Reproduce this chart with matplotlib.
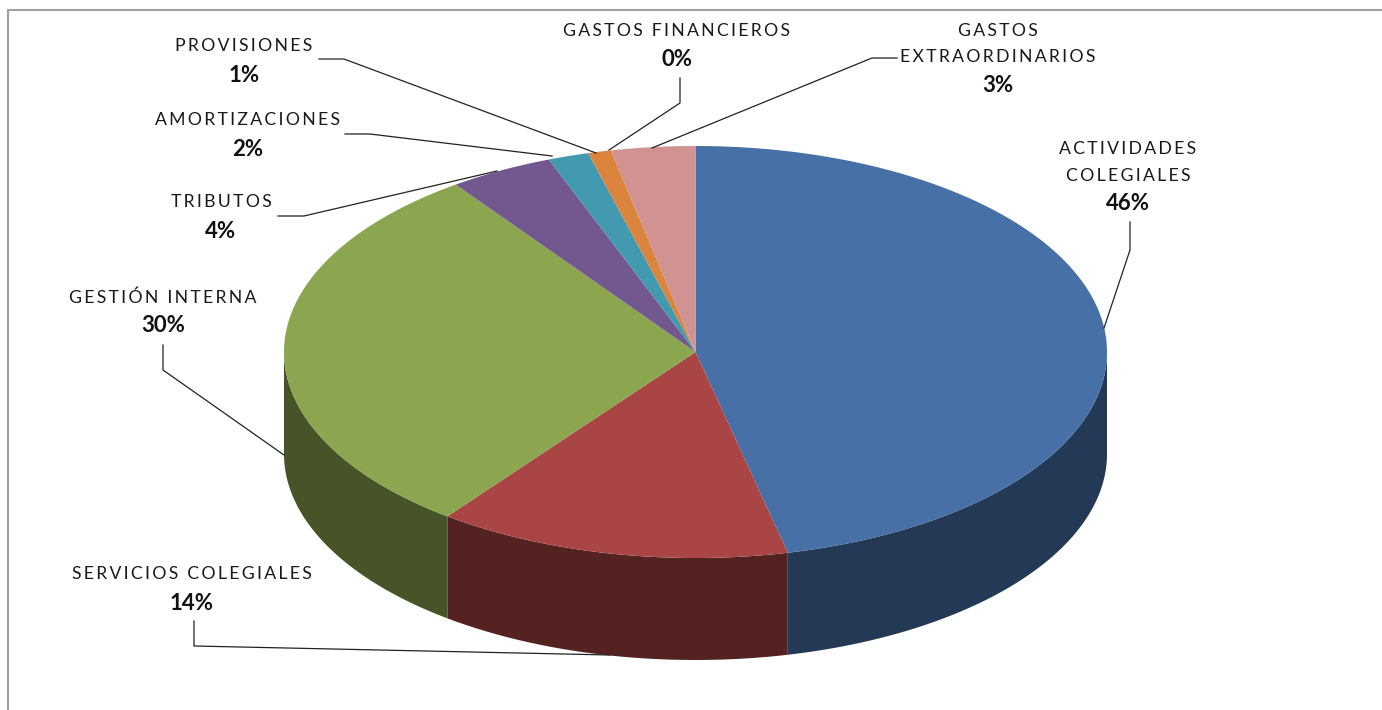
import numpy as np
import matplotlib
matplotlib.use("Agg")
import matplotlib.pyplot as plt

plt.rcParams['font.family'] = ['Lato', 'DejaVu Sans']

# porcentajes, en sentido horario desde arriba
categorias = ["ACTIVIDADES COLEGIALES", "SERVICIOS COLEGIALES", "GESTIÓN INTERNA", "TRIBUTOS",
              "AMORTIZACIONES", "PROVISIONES", "GASTOS FINANCIEROS", "GASTOS EXTRAORDINARIOS"]
valores = [46.4, 13.9, 29.8, 4.1, 1.6, 0.9, 0.0, 3.3]
etiquetas_pct = ["46%", "14%", "30%", "4%", "2%", "1%", "0%", "3%"]
colores = ["#4670A6", "#A94645", "#8BA64F", "#72588F", "#4299B0", "#DB843D", "#D19392", "#D19392"]
colores_lado = ["#233955", "#552222", "#475427", "#3A2C48", "#214D58", "#6E421E", "#694A49", "#694A49"]

# geometria del pastel en pixeles
cx, cy = 695.5, 352
rx, ry = 411.5, 206
alto = 102

# lineas de cada etiqueta: (x centro, [y de cada linea de texto], y del porcentaje)
lineas_nombre = [["ACTIVIDADES", "COLEGIALES"], ["SERVICIOS COLEGIALES"], ["GESTIÓN INTERNA"], ["TRIBUTOS"],
                 ["AMORTIZACIONES"], ["PROVISIONES"], ["GASTOS FINANCIEROS"], ["GASTOS", "EXTRAORDINARIOS"]]
pos_x = [1128, 192, 163, 221, 248, 244, 677, 998]
pos_y = [[149, 176, 204], [574, 603], [298, 326], [202, 231], [120, 150], [46, 75], [31, 60], [31, 57, 86]]

lideres = [[(1130, 222), (1130, 250), (1104, 328)],
           [(194, 621), (194, 646), (610, 655)],
           [(163, 345), (163, 370), (284, 455)],
           [(278, 216), (304, 216), (497, 171)],
           [(345, 134), (370, 134), (552, 156)],
           [(319, 59), (344, 59), (596, 153)],
           [(680, 78), (680, 103), (609, 150)],
           [(897, 58), (872, 58), (652, 148)]]


def arco(t0, t1):
    t = np.radians(np.linspace(t0, t1, 200))
    return cx + rx * np.sin(t), cy - ry * np.cos(t)


def espaciado(s):
    return "\u200a\u200a".join(s)


fig = plt.figure(figsize=(13.82, 7.10), dpi=100)
ax = fig.add_axes([0, 0, 1, 1])
ax.set_xlim(0, 1382)
ax.set_ylim(710, 0)
ax.axis("off")

# marco del grafico, abierto a la derecha y abajo
ax.plot([8, 8, 1382], [710, 10, 10], color="#A0A0A0", lw=1.5, zorder=1)

# pared lateral, solo la parte visible de delante
bordes = np.cumsum([0] + valores) * 3.6
for i in range(len(valores)):
    a = max(bordes[i], 90)
    b = min(bordes[i + 1], 270)
    if b > a:
        x, y = arco(a, b)
        ax.fill(np.r_[x, x[::-1]], np.r_[y, y[::-1] + alto], color=colores_lado[i], lw=0, zorder=2)

# cara superior
for i in range(len(valores)):
    if valores[i] > 0:
        x, y = arco(bordes[i], bordes[i + 1])
        ax.fill(np.r_[cx, x], np.r_[cy, y], color=colores[i], lw=0, zorder=3)

for puntos in lideres:
    xs, ys = zip(*puntos)
    ax.plot(xs, ys, color="#222222", lw=0.9, zorder=4)

for i in range(len(categorias)):
    for linea, y in zip(lineas_nombre[i], pos_y[i]):
        ax.text(pos_x[i], y, espaciado(linea), ha="center", va="center", fontsize=12.7, color="#1a1a1a", zorder=5)
    ax.text(pos_x[i], pos_y[i][-1], etiquetas_pct[i], ha="center", va="center", fontsize=16,
            fontweight="bold", color="#111111", zorder=5)

fig.savefig("out.png", dpi=100)
